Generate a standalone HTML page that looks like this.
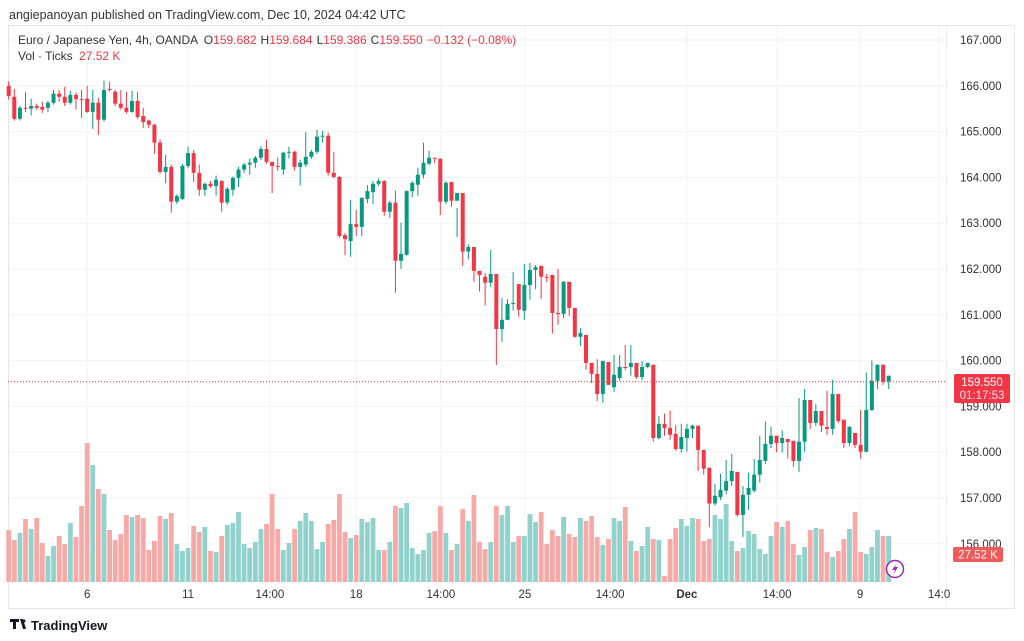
<!DOCTYPE html>
<html><head><meta charset="utf-8"><style>
body{margin:0;background:#fff;font-family:"Liberation Sans",sans-serif;}
svg{display:block}
</style></head><body>
<svg id="c" width="1024" height="641" viewBox="0 0 1024 641" xmlns="http://www.w3.org/2000/svg">
<rect x="0" y="0" width="1024" height="641" fill="#fff"/>
<text x="9" y="19" font-size="12.5" fill="#333" font-family="Liberation Sans, sans-serif">angiepanoyan published on TradingView.com, Dec 10, 2024 04:42 UTC</text>
<rect x="8.5" y="25.5" width="1006" height="583" fill="none" stroke="#e6e6e6"/>
<g id="grid"></g>
<g id="vol"></g>
<g id="candles"></g>
<line x1="8" x2="946" y1="381.7" y2="381.7" stroke="#f23645" stroke-dasharray="1,2" stroke-width="1"/>
<line x1="946.5" x2="946.5" y1="26" y2="608" stroke="#eee"/>
<g id="yaxis"></g>
<g id="xaxis"></g>
<g>
<rect x="954" y="374" width="56" height="29" rx="2" fill="#f23645"/>
<text x="982" y="386" font-size="11.5" fill="#fff" text-anchor="middle">159.550</text>
<text x="982" y="399" font-size="11.5" fill="#fde" text-anchor="middle">01:17:53</text>
</g>
<g>
<rect x="953" y="547" width="50" height="15" rx="2" fill="#f05a5a"/>
<text x="978" y="558.5" font-size="11.5" fill="#fff" text-anchor="middle">27.52 K</text>
</g>
<text x="18" y="44" font-size="12" fill="#333">Euro / Japanese Yen, 4h, OANDA <tspan dx="3">O</tspan><tspan fill="#f23645">159.682</tspan><tspan dx="4">H</tspan><tspan fill="#f23645">159.684</tspan><tspan dx="4">L</tspan><tspan fill="#f23645">159.386</tspan><tspan dx="4">C</tspan><tspan fill="#f23645">159.550</tspan><tspan dx="4" fill="#f23645">−0.132 (−0.08%)</tspan></text>
<text x="18" y="60" font-size="12" fill="#333">Vol · Ticks <tspan dx="3" fill="#f23645">27.52 K</tspan></text>
<g><circle cx="895" cy="569" r="8.5" fill="#fff" stroke="#9c27b0" stroke-width="1.5"/><path d="M897 563 L892 570 L895 570 L893 575 L898 567 L895 567 Z" fill="#9c27b0"/></g>
<g><path d="M10 619 h9 v3 h-3 v7 h-3 v-7 h-3z M20 619 h3 l3 10 h-3z" fill="#131722"/><circle cx="24" cy="621" r="1.5" fill="#131722"/><text x="31" y="630" font-size="13" font-weight="bold" fill="#131722">TradingView</text></g>
</svg>
<script>
const opens=[166.00,165.76,165.28,165.52,165.50,165.56,165.54,165.52,165.63,165.83,165.76,165.63,165.80,165.71,165.72,165.43,165.63,165.26,165.93,165.87,165.61,165.52,165.43,165.67,165.34,165.24,165.15,164.76,164.12,164.23,163.47,163.53,164.25,164.53,164.10,163.73,163.86,163.81,163.92,163.45,163.73,163.99,164.17,164.28,164.32,164.43,164.62,164.34,164.25,164.17,164.54,164.56,164.23,164.28,164.45,164.56,164.89,164.91,164.10,164.01,162.74,162.61,162.98,162.92,163.53,163.68,163.86,163.92,163.25,163.45,162.18,162.31,163.70,163.84,164.06,164.30,164.43,164.41,163.47,163.90,163.49,163.66,162.38,162.48,161.96,161.83,161.70,161.89,160.69,160.89,161.24,161.67,161.09,161.65,161.98,162.07,161.83,161.87,161.04,161.02,161.72,161.15,160.52,160.56,159.95,159.71,159.27,159.97,159.42,159.62,159.86,159.86,159.95,159.64,159.86,159.91,158.31,158.62,158.53,158.40,158.07,158.31,158.51,158.58,158.05,157.66,156.88,157.02,157.16,157.37,157.57,156.63,157.07,157.16,157.51,157.81,158.18,158.36,158.20,158.29,158.25,157.81,158.23,159.14,158.64,158.90,158.55,158.51,159.27,158.71,158.20,158.42,158.16,158.01,158.92,159.56,159.91,159.54,159.67];
const closes=[165.78,165.28,165.52,165.50,165.56,165.52,165.48,165.63,165.83,165.76,165.63,165.80,165.71,165.70,165.43,165.63,165.26,165.91,165.91,165.61,165.52,165.43,165.67,165.32,165.21,165.15,164.76,164.12,164.23,163.47,163.59,164.25,164.53,164.10,163.73,163.86,163.81,163.95,163.45,163.75,163.99,164.17,164.28,164.32,164.43,164.62,164.34,164.25,164.24,164.54,164.56,164.23,164.32,164.45,164.56,164.89,164.91,164.10,164.01,162.72,162.65,162.98,162.92,163.55,163.70,163.86,163.92,163.25,163.45,162.18,162.33,163.70,163.88,164.06,164.32,164.43,164.42,163.47,163.88,163.49,163.66,162.38,162.48,161.96,161.87,161.70,161.89,160.69,160.89,161.24,161.26,161.11,161.65,161.98,162.04,161.83,161.82,161.04,161.02,161.72,161.15,160.52,160.60,159.95,159.71,159.27,159.99,159.47,159.69,159.86,159.85,159.95,159.64,159.86,159.95,158.31,158.62,158.53,158.38,158.07,158.33,158.51,158.58,158.05,157.64,156.88,157.05,157.18,157.37,157.59,156.63,157.07,157.22,157.51,157.83,158.18,158.36,158.20,158.31,158.22,157.81,158.23,159.14,158.64,158.90,158.58,158.51,159.27,158.68,158.20,158.55,158.16,158.01,158.92,159.56,159.91,159.54,159.67,159.54];
const highs=[166.10,165.93,165.56,165.87,165.72,165.61,165.65,165.67,165.91,165.91,165.98,165.89,165.85,165.91,166.00,165.91,165.74,166.11,166.09,165.91,165.91,165.87,165.89,165.87,165.52,165.26,165.17,164.83,164.49,164.28,163.63,164.30,164.67,164.60,164.28,163.89,163.92,164.04,163.94,163.79,164.02,164.23,164.32,164.41,164.47,164.69,164.82,164.34,164.43,164.56,164.67,164.58,164.39,164.99,164.60,165.04,165.02,164.98,164.56,164.03,162.79,163.51,163.29,163.57,163.83,163.92,163.98,163.94,163.49,163.71,163.01,163.72,163.92,164.21,164.76,164.58,164.42,163.88,163.92,163.66,162.70,162.79,162.54,162.17,161.87,161.91,162.42,161.08,161.37,161.34,161.93,161.67,162.11,162.13,162.09,161.98,161.89,161.34,162.00,161.74,161.41,160.65,160.71,160.15,159.75,160.03,160.00,159.73,160.12,160.12,160.34,160.34,159.91,159.99,159.95,158.97,158.79,158.84,158.91,158.59,158.62,158.62,158.60,158.32,157.85,157.06,157.31,157.53,157.83,157.96,157.07,157.26,157.55,157.85,158.36,158.67,158.56,158.31,158.48,158.27,158.25,159.18,159.38,158.92,159.05,158.62,159.34,159.58,158.75,158.57,158.57,158.32,158.92,159.74,160.00,159.91,159.91,159.67];
const lows=[165.70,165.24,165.24,165.43,165.35,165.48,165.41,165.43,165.59,165.65,165.56,165.59,165.48,165.30,165.41,165.06,164.93,165.22,165.87,165.56,165.48,165.39,165.41,165.28,165.08,165.08,164.52,164.08,163.88,163.23,163.42,163.51,164.20,163.90,163.60,163.60,163.77,163.60,163.25,163.40,163.60,163.79,164.10,164.06,164.21,164.38,164.30,163.66,164.14,164.06,164.41,164.15,163.82,164.23,164.40,164.51,164.76,164.04,163.98,162.68,162.30,162.27,162.72,162.72,163.44,163.42,163.81,163.16,163.12,161.48,162.00,162.29,163.57,163.60,163.98,164.26,164.31,163.18,163.42,163.36,163.33,162.07,162.21,161.72,161.51,161.20,161.60,159.90,160.41,160.89,161.09,160.96,160.89,161.33,161.56,161.35,161.72,160.59,160.78,160.93,160.98,160.50,160.32,159.80,159.51,159.12,159.08,159.64,159.32,159.56,159.79,159.67,159.60,159.57,159.83,158.23,158.28,158.36,158.27,158.03,157.99,158.01,158.31,157.59,157.51,156.37,156.83,156.96,157.08,157.26,156.59,156.15,156.74,157.12,157.34,157.74,158.09,158.00,157.99,157.86,157.68,157.57,158.01,158.51,158.57,158.44,158.38,158.38,158.63,158.09,158.13,158.09,157.85,158.00,158.90,159.38,159.47,159.38,159.41];
const volumes=[52,42,49,63,53,64,39,26,36,46,38,59,45,76,139,117,93,88,52,42,48,67,65,67,64,32,41,66,63,69,38,31,34,56,50,55,31,30,46,57,59,70,38,34,40,53,58,88,53,32,39,53,61,69,61,33,40,58,62,88,50,44,47,63,60,64,32,32,40,76,74,79,34,28,32,49,51,76,49,32,38,73,61,87,40,33,40,76,67,76,40,46,46,68,60,70,38,52,46,65,48,45,64,61,66,45,37,43,64,61,75,41,31,36,55,43,42,6,43,54,63,56,64,63,41,43,67,63,78,41,31,34,51,48,33,28,46,60,55,61,38,27,35,52,54,53,30,25,31,43,53,70,30,28,35,52,46,46,23,27,26];
const tickIdx=[14,32,46.6,62,77.1,92.1,107.3,121,137.1,151.9,166];
const tickLabels=["6","11","14:00","18","14:00","25","14:00","Dec","14:00","9","14:0"];
const priceTicks=[167,166,165,164,163,162,161,160,159,158,157,156];

const NS="http://www.w3.org/2000/svg";
const x0=8.7, pitch=5.605, plotR=946, plotT=26, plotB=582;
const X=i=>x0+i*pitch;
const Y=p=>40+(167-p)*45.8;
const VH=v=>v*1.0;
function mk(tag,attrs,parent){const e=document.createElementNS(NS,tag);for(const k in attrs)e.setAttribute(k,attrs[k]);parent.appendChild(e);return e;}
const grid=document.getElementById('grid'),vol=document.getElementById('vol'),cg=document.getElementById('candles'),ya=document.getElementById('yaxis'),xa=document.getElementById('xaxis');
priceTicks.forEach(p=>{
  const l=mk('line',{x1:9,x2:plotR,y1:Y(p),y2:Y(p),stroke:'#f2f2f2'},grid);
  
  
  const t=mk('text',{x:960,y:Y(p)+4,'font-size':11.5,fill:'#333'},ya);
  t.textContent=p.toFixed(3);
  
  
});
tickIdx.forEach((ti,k)=>{
  const l=mk('line',{x1:X(ti),x2:X(ti),y1:plotT,y2:plotB,stroke:'#f2f2f2'},grid);
  
  
  const t=mk('text',{x:X(ti),y:598,'font-size':11.5,fill:'#333','text-anchor':'middle','font-weight':tickLabels[k]==='Dec'?'bold':'normal'},xa);
  t.textContent=tickLabels[k];
  
  
});
const n=Math.min(opens.length,closes.length,highs.length,lows.length);
for(let i=0;i<n;i++){
  const up=closes[i]>=opens[i];
  const col=up?'#089981':'#f23645';
  const cx=X(i);
  if(i<volumes.length){
    const h=VH(volumes[i]);
    const b=mk('rect',{x:cx-2.4,y:plotB-h,width:4.8,height:h,fill:up?'#92d2cc':'#f7a9a7'},vol);
    
    
  }
  const w=mk('line',{x1:cx,x2:cx,y1:Y(highs[i]),y2:Y(lows[i]),stroke:col,'stroke-width':1},cg);
  
  
  const top=Y(Math.max(opens[i],closes[i])),bot=Y(Math.min(opens[i],closes[i]));
  const r=mk('rect',{x:cx-2,y:top,width:4,height:Math.max(1,bot-top),fill:col},cg);
  
  
}
</script>
</body></html>
